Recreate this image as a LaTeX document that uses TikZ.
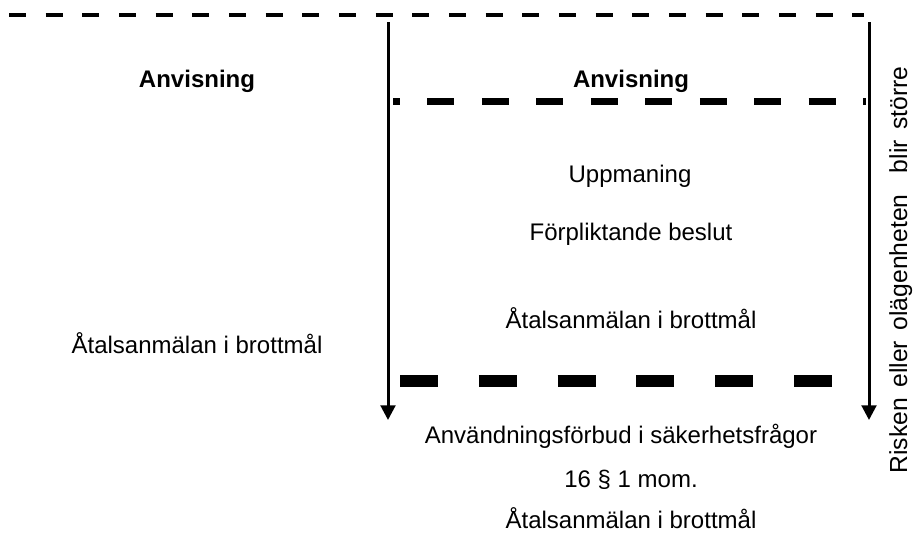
\documentclass[tikz,border=0pt]{standalone}
\usepackage{fontspec}
\setmainfont{Liberation Sans}
\usetikzlibrary{arrows.meta}

\begin{document}
\begin{tikzpicture}[x=0.75pt,y=-0.75pt,>={Triangle[length=11pt,width=11pt]},
  txt/.style={font=\fontsize{18}{22}\selectfont,inner sep=0pt,anchor=base},
  head/.style={txt,font=\fontsize{18}{22}\selectfont\bfseries},
  scalearrow/.style={->,line width=2.25pt},
  thin sep/.style={line width=3pt,dash pattern=on 12.75pt off 14.75pt},
  mid sep/.style={line width=5.25pt,dash pattern=on 20.25pt off 20.6pt,dash phase=15pt},
  thick sep/.style={line width=9pt,dash pattern=on 28.5pt off 30.6pt}]
  \useasboundingbox (0,0) rectangle (914,532);
  % ends of the separators and arrows
  \coordinate (topL) at (9,15);
  \coordinate (topR) at (864,15);
  \coordinate (midL) at (393,101);
  \coordinate (midR) at (866,101);
  \coordinate (botL) at (400,381);
  \coordinate (botR) at (832,381);
  \coordinate (a1) at (388,22);
  \coordinate (a2) at (388,420);
  \coordinate (b1) at (869,22);
  \coordinate (b2) at (869,420);
  % labels
  \node[head] (anvL) at (197,87) {Anvisning};
  \node[head] (anvR) at (631,87) {Anvisning};
  \node[txt] (uppm) at (630,182) {Uppmaning};
  \node[txt] (forp) at (631,240) {Förpliktande beslut};
  \node[txt] (atalM) at (631,328) {Åtalsanmälan i brottmål};
  \node[txt] (atalL) at (197,353) {Åtalsanmälan i brottmål};
  \node[txt] (forb) at (621,443) {Användningsförbud i säkerhetsfrågor};
  \node[txt] (mom) at (631,487) {16 § 1 mom.};
  \node[txt] (atalB) at (631,528) {Åtalsanmälan i brottmål};
  \node[txt,font=\fontsize{18.5}{22}\selectfont,rotate=90] (risk) at (907,270)
    {Risken\hspace{8pt}eller\hspace{8pt}olägenheten\hspace{16pt}blir\hspace{8pt}större};
  % lines
  \draw[thin sep] (topL) -- (topR);
  \draw[mid sep] (midL) -- (midR);
  \draw[thick sep] (botL) -- (botR);
  \draw[scalearrow] (a1) -- (a2);
  \draw[scalearrow] (b1) -- (b2);
\end{tikzpicture}
\end{document}
